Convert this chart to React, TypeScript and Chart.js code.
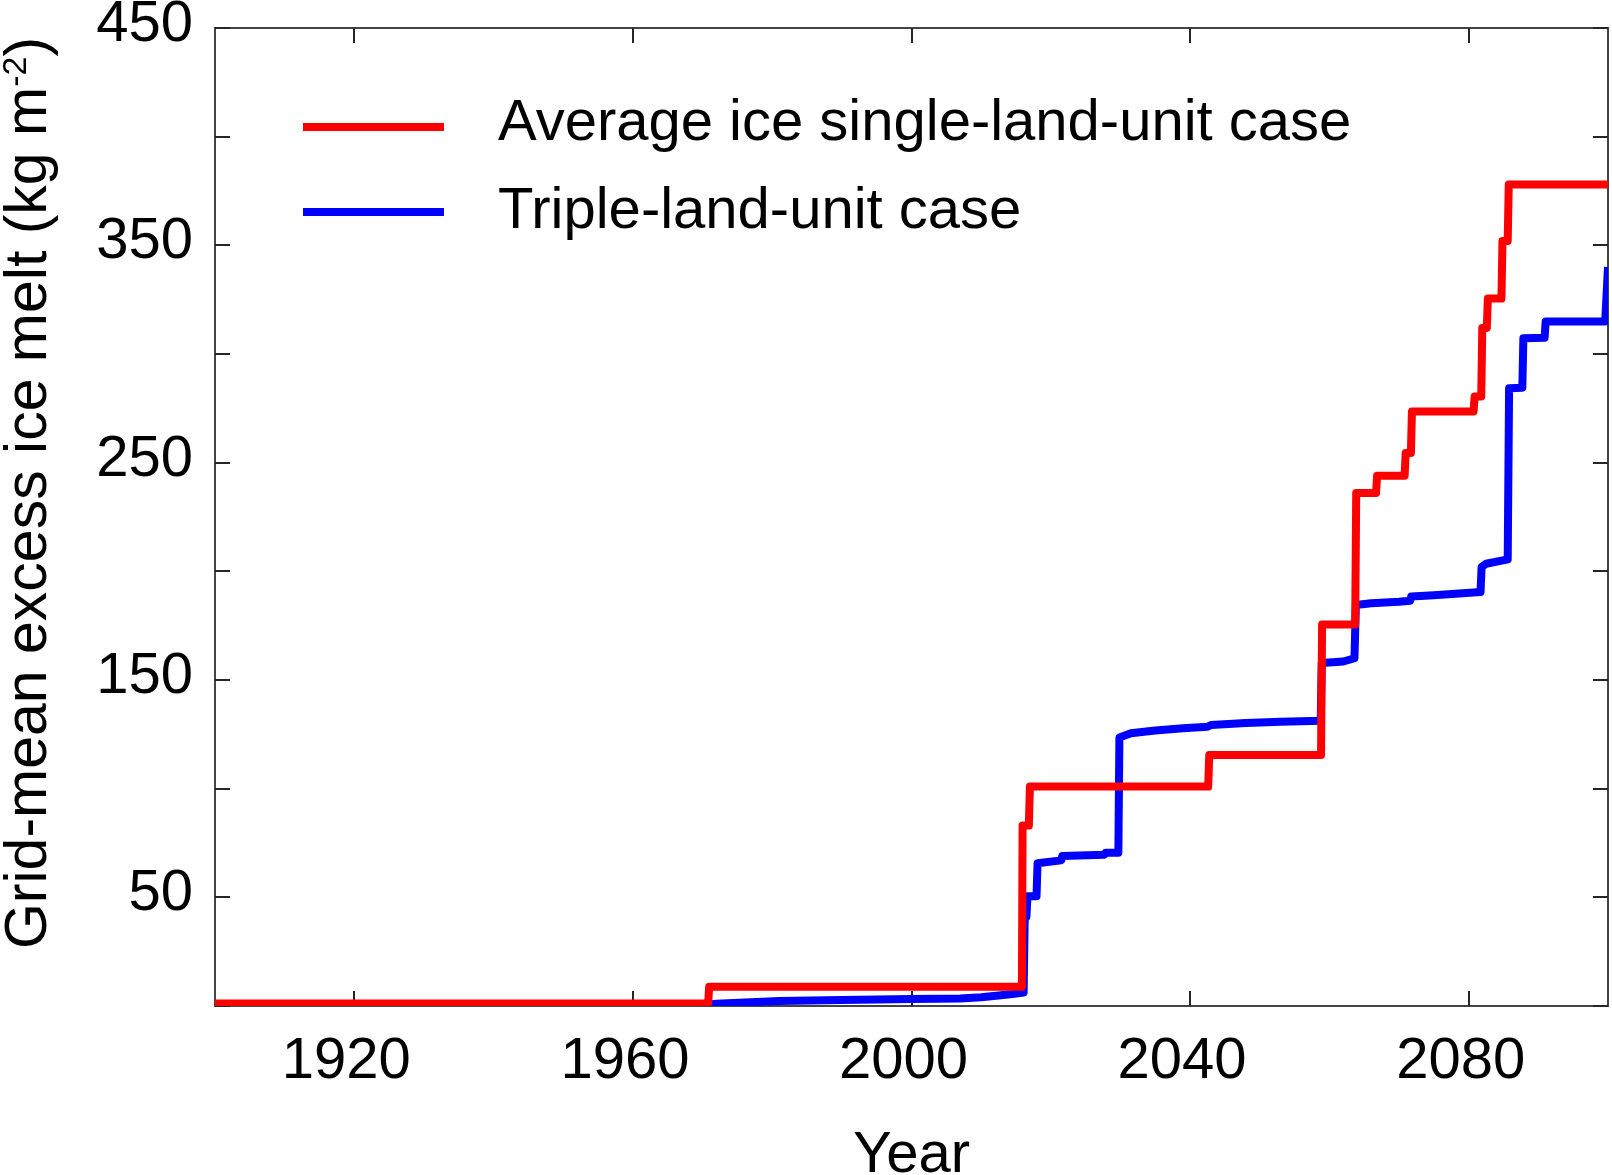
import React, { useEffect, useRef } from 'react';
import { Chart, registerables } from 'chart.js';

Chart.register(...registerables);

const FONT = "'Liberation Sans', Arial, Helvetica, sans-serif";

const seriesNames = ['Average ice single-land-unit case', 'Triple-land-unit case'];
const seriesColors = ['#ff0000', '#0000ff'];

// Average ice single-land-unit case (red)
const redYears = [
  1900, 1970.8, 1970.95, 2015.85, 2015.95, 2016.85, 2017.0, 2042.6, 2042.75,
  2058.8, 2058.95, 2063.7, 2063.85, 2066.7, 2066.85, 2070.8, 2070.95, 2071.7,
  2071.85, 2080.7, 2080.85, 2081.8, 2081.95, 2082.6, 2082.75, 2084.7, 2084.85,
  2085.6, 2085.75, 2100,
];
const redValues = [
  1.2, 1.2, 8.9, 8.9, 83, 83, 101, 101, 115.5,
  115.5, 175.5, 175.5, 236, 236, 244, 244, 254.5, 254.5,
  273.5, 273.5, 280.5, 280.5, 312, 312, 325.5, 325.5, 352,
  352, 378, 378,
];

// Triple-land-unit case (blue)
const blueYears = [
  1900, 1970, 1972, 1981, 1990, 2000, 2007, 2010, 2012.5, 2014.5, 2016.1,
  2016.25, 2016.5, 2016.65, 2017.95, 2018.1, 2021.5, 2021.65, 2027.7, 2027.85,
  2029.7, 2029.85, 2031.5, 2035, 2039, 2042.5, 2043, 2048, 2053, 2058.75,
  2058.9, 2062, 2063.6, 2063.8, 2066, 2070, 2071.6, 2071.75, 2075, 2081.7,
  2081.85, 2082.5, 2085.6, 2085.8, 2087.7, 2087.85, 2090.9, 2091.05, 2099.6,
  2100,
];
const blueValues = [
  0.2, 0.3, 1.0, 2.3, 2.8, 3.2, 3.5, 4.0, 4.8, 5.5, 6.2,
  40, 41, 50.5, 50.5, 65.7, 67, 69, 69.6, 70.5,
  70.5, 123.5, 125.5, 126.8, 127.8, 128.5, 129.3, 130.2, 130.8, 131.3,
  157.8, 158.5, 160, 184.5, 185.3, 186, 186.5, 188.4, 189, 190.5,
  202, 203.5, 205.5, 284.2, 284.5, 307.3, 307.5, 315, 315,
  340,
];

const xTickValues = [1920, 1960, 2000, 2040, 2080];
const yTickValues = [0, 50, 100, 150, 200, 250, 300, 350, 400, 450];
const yLabelValues = [50, 150, 250, 350, 450];
const xTitle = 'Year';
const yTitleMain = 'Grid-mean excess ice melt (kg m';
const yTitleSup = '-2';
const yTitleEnd = ')';

const toPoints = (xs: number[], ys: number[]) => xs.map((x, i) => ({ x, y: ys[i] }));

const framePlugin = {
  id: 'framePlugin',
  beforeDatasetsDraw(chart: any) {
    const { ctx, chartArea } = chart;
    const { left, right, top, bottom } = chartArea;
    const xs = chart.scales.x;
    const ys = chart.scales.y;
    ctx.save();
    ctx.strokeStyle = '#444444';
    ctx.lineWidth = 2;
    ctx.strokeRect(left, top, right - left, bottom - top);
    ctx.strokeStyle = '#262626';
    ctx.lineWidth = 2;
    const tl = 15;
    ctx.beginPath();
    yTickValues.forEach((v) => {
      const p = Math.round(ys.getPixelForValue(v));
      ctx.moveTo(left, p);
      ctx.lineTo(left + tl, p);
      ctx.moveTo(right, p);
      ctx.lineTo(right - tl, p);
    });
    xTickValues.forEach((v) => {
      const p = Math.round(xs.getPixelForValue(v));
      ctx.moveTo(p, bottom);
      ctx.lineTo(p, bottom - tl);
      ctx.moveTo(p, top);
      ctx.lineTo(p, top + tl);
    });
    ctx.stroke();
    ctx.restore();
  },
  afterDraw(chart: any) {
    const { ctx, chartArea } = chart;
    const { left, top, bottom } = chartArea;
    ctx.save();
    // legend
    const rows = [
      { lineY: top + 99, textY: top + 96 },
      { lineY: top + 184, textY: top + 184 },
    ];
    chart.data.datasets.forEach((ds: any, i: number) => {
      const r = rows[i];
      ctx.strokeStyle = ds.borderColor;
      ctx.lineWidth = 8;
      ctx.lineCap = 'butt';
      ctx.beginPath();
      ctx.moveTo(left + 88, r.lineY);
      ctx.lineTo(left + 229, r.lineY);
      ctx.stroke();
      ctx.fillStyle = '#000000';
      ctx.font = `58px ${FONT}`;
      ctx.textAlign = 'left';
      ctx.textBaseline = 'middle';
      ctx.fillText(ds.label, left + 283, r.textY);
    });
    // y-axis title with superscript
    const mainFont = `59px ${FONT}`;
    const supFont = `34px ${FONT}`;
    ctx.font = mainFont;
    const w1 = ctx.measureText(yTitleMain).width;
    const w3 = ctx.measureText(yTitleEnd).width;
    ctx.font = supFont;
    const w2 = ctx.measureText(yTitleSup).width;
    const total = w1 + w2 + w3;
    const cy = (top + bottom) / 2 - 24;
    ctx.translate(left - 169, cy);
    ctx.rotate(-Math.PI / 2);
    ctx.fillStyle = '#000000';
    ctx.textAlign = 'left';
    ctx.textBaseline = 'alphabetic';
    let x0 = -total / 2;
    ctx.font = mainFont;
    ctx.fillText(yTitleMain, x0, 0);
    x0 += w1;
    ctx.font = supFont;
    ctx.fillText(yTitleSup, x0, -20);
    x0 += w2;
    ctx.font = mainFont;
    ctx.fillText(yTitleEnd, x0, 0);
    ctx.restore();
  },
};

export default function App() {
  const canvasRef = useRef<HTMLCanvasElement | null>(null);

  useEffect(() => {
    if (!canvasRef.current) return;
    const chart = new Chart(canvasRef.current, {
      type: 'line',
      data: {
        datasets: [
          {
            label: seriesNames[0],
            data: toPoints(redYears, redValues),
            borderColor: seriesColors[0],
            backgroundColor: seriesColors[0],
            borderWidth: 8,
            pointRadius: 0,
            tension: 0,
            borderJoinStyle: 'round',
            fill: false,
          },
          {
            label: seriesNames[1],
            data: toPoints(blueYears, blueValues),
            borderColor: seriesColors[1],
            backgroundColor: seriesColors[1],
            borderWidth: 8,
            pointRadius: 0,
            tension: 0,
            borderJoinStyle: 'round',
            fill: false,
          },
        ],
      },
      options: {
        animation: false,
        responsive: true,
        maintainAspectRatio: false,
        devicePixelRatio: 1,
        layout: { padding: { top: 28, right: 4, left: 0, bottom: 0 } },
        plugins: {
          legend: { display: false },
          tooltip: { enabled: false },
        },
        scales: {
          x: {
            type: 'linear',
            position: 'bottom',
            min: 1900,
            max: 2100,
            grid: { display: false, drawTicks: false },
            border: { display: false },
            afterBuildTicks: (scale: any) => {
              scale.ticks = xTickValues.map((v) => ({ value: v }));
            },
            afterFit: (scale: any) => {
              scale.height = 169;
              scale.paddingLeft = 0;
              scale.paddingRight = 0;
            },
            ticks: {
              color: '#000000',
              font: { family: FONT, size: 58 },
              padding: 21,
              labelOffset: -8,
              maxRotation: 0,
              autoSkip: false,
              callback: (v: any) => String(v),
            },
            title: {
              display: true,
              text: xTitle,
              color: '#000000',
              font: { family: FONT, size: 58, lineHeight: 1 },
              padding: { top: 0, bottom: -10 },
            },
          },
          y: {
            type: 'linear',
            position: 'left',
            min: 0,
            max: 450,
            grid: { display: false, drawTicks: false },
            border: { display: false },
            afterBuildTicks: (scale: any) => {
              scale.ticks = yTickValues.map((v) => ({ value: v }));
            },
            afterFit: (scale: any) => {
              scale.width = 215;
              scale.paddingTop = 0;
              scale.paddingBottom = 0;
            },
            ticks: {
              color: '#000000',
              font: { family: FONT, size: 58 },
              padding: 22,
              labelOffset: -3,
              autoSkip: false,
              callback: (v: any) => (yLabelValues.includes(Number(v)) ? String(v) : ''),
            },
          },
        },
      },
      plugins: [framePlugin],
    } as any);
    return () => chart.destroy();
  }, []);

  return (
    <div style={{ position: 'absolute', left: 0, top: 0, width: 1612, height: 1175, background: '#ffffff' }}>
      <canvas ref={canvasRef} />
    </div>
  );
}
